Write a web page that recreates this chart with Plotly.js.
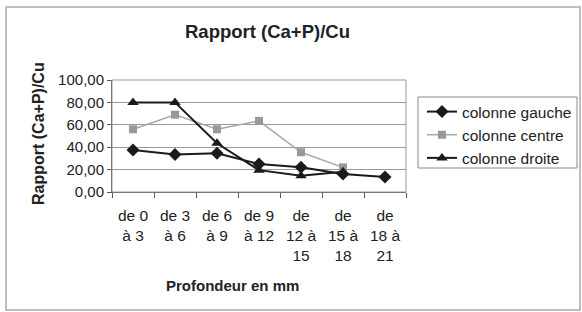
<!DOCTYPE html>
<html>
<head>
<meta charset="utf-8">
<script src="https://cdn.plot.ly/plotly-3.0.1.min.js"></script>
<style>
html,body{margin:0;padding:0;background:#fff;}
#chart{width:582px;height:312px;}
</style>
</head>
<body>
<div id="chart"></div>
<script>
const categories = ["de 0<br>à 3","de 3<br>à 6","de 6<br>à 9","de 9<br>à 12","de<br>12 à<br>15","de<br>15 à<br>18","de<br>18 à<br>21"];
const gauche = [37.5, 33.5, 34.5, 25, 22, 16, 13.5];
const centre = [56, 69, 56, 63.5, 35.5, 22, null];
const droite = [80, 80, 43.5, 19.5, 14.5, 18, null];
const seriesNames = ["colonne gauche", "colonne centre", "colonne droite"];

const W = 582, H = 312;
const m = {l:112, r:176, t:80, b:120, autoexpand: false};
const pw = W - m.l - m.r, ph = H - m.t - m.b;
const px = x => (x - m.l) / pw;
const py = y => (H - m.b - y) / ph;

const FONT = "Liberation Sans, Arial, sans-serif";

const traces = [
  {x: categories, y: gauche, name: seriesNames[0], type: "scatter", mode: "lines+markers",
   line: {color: "#1a1a1a", width: 2}, marker: {symbol: "diamond", size: 10, color: "#1a1a1a"}},
  {x: categories, y: centre, name: seriesNames[1], type: "scatter", mode: "lines+markers",
   line: {color: "#a8a8a8", width: 1.5}, marker: {symbol: "square", size: 8, color: "#999999"}},
  {x: categories, y: droite, name: seriesNames[2], type: "scatter", mode: "lines+markers",
   line: {color: "#1a1a1a", width: 2}, marker: {symbol: "triangle-up", size: 10, color: "#1a1a1a"}}
];

const layout = {
  width: W, height: H,
  margin: m,
  paper_bgcolor: "#ffffff",
  plot_bgcolor: "#ffffff",
  separators: ", ",
  font: {family: FONT, color: "#222", size: 15},
  showlegend: true,
  legend: {
    x: px(422), y: py(95), xanchor: "left", yanchor: "top",
    borderwidth: 0, bgcolor: "rgba(0,0,0,0)",
    font: {family: FONT, size: 15.5, color: "#222"},
    tracegroupgap: 0
  },
  xaxis: {
    type: "category",
    showline: true, linecolor: "#555", linewidth: 1,
    ticks: "outside", tickson: "boundaries", ticklen: 5, tickcolor: "#555",
    showgrid: false, zeroline: false,
    ticklabelstandoff: 9,
    tickfont: {family: FONT, size: 15.5, color: "#222"},
    range: [-0.5, 6.5], fixedrange: true
  },
  yaxis: {
    range: [0, 100], dtick: 20, tickformat: ".2f",
    showline: true, linecolor: "#555", linewidth: 1,
    ticks: "outside", ticklen: 4, tickcolor: "#555",
    showgrid: true, gridcolor: "#999", gridwidth: 1,
    zeroline: false,
    tickfont: {family: FONT, size: 15, color: "#222"},
    fixedrange: true
  },
  shapes: [
    {type: "rect", xref: "paper", yref: "paper", x0: 0, x1: 1, y0: 0, y1: 1,
     line: {color: "#999", width: 1}},
    {type: "rect", xref: "paper", yref: "paper", x0: px(6), x1: px(580), y0: py(310), y1: py(7),
     line: {color: "#aaa", width: 1.5}},
    {type: "rect", xref: "paper", yref: "paper", x0: px(418), x1: px(577), y0: py(168), y1: py(97),
     line: {color: "#888", width: 1}}
  ],
  annotations: [
    {text: "<b>Rapport (Ca+P)/Cu</b>", xref: "paper", yref: "paper", x: px(267), y: py(31),
     xanchor: "center", yanchor: "middle", showarrow: false,
     font: {family: FONT, size: 18.5, color: "#222"}},
    {text: "<b>Rapport (Ca+P)/Cu</b>", xref: "paper", yref: "paper", x: px(38), y: py(134),
     xanchor: "center", yanchor: "middle", showarrow: false, textangle: -90,
     font: {family: FONT, size: 16, color: "#222"}},
    {text: "<b>Profondeur en mm</b>", xref: "paper", yref: "paper", x: px(232), y: py(285),
     xanchor: "center", yanchor: "middle", showarrow: false,
     font: {family: FONT, size: 15, color: "#222"}}
  ]
};

Plotly.newPlot("chart", traces, layout, {displayModeBar: false, staticPlot: true});
</script>
</body>
</html>
